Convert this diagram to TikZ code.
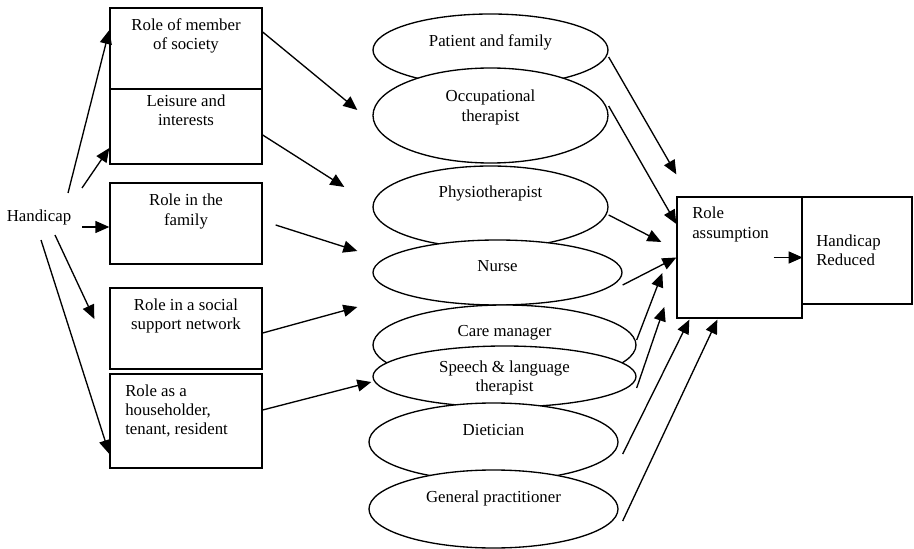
\documentclass[tikz,border=0pt]{standalone}
\usepackage{fontspec}
\setmainfont{Liberation Serif}
\usetikzlibrary{arrows.meta,shapes.geometric}
\begin{document}
\begin{tikzpicture}[x=0.75pt,y=-0.75pt,
  every node/.style={font=\fontsize{12.6pt}{14.4pt}\selectfont},
  rolebox/.style={draw,line width=1pt,rectangle,inner sep=0pt},
  member/.style={draw,line width=1pt,ellipse,fill=white,inner sep=0pt},
  lbl/.style={inner sep=0pt,align=center},
  lbll/.style={inner sep=0pt,align=left,anchor=west},
  arr/.style={line width=1pt,-{Triangle[length=10.5pt,width=9pt]}}]
\useasboundingbox (0,0) rectangle (914,549);

% roles on the left
\node[rolebox,minimum width=114pt,minimum height=60.75pt] (b1) at (186,48.5) {};
\node[rolebox,minimum width=114pt,minimum height=56.25pt] (b2) at (186,126.5) {};
\node[rolebox,minimum width=114pt,minimum height=60.75pt] (b3) at (186,223.5) {};
\node[rolebox,minimum width=114pt,minimum height=60.75pt] (b4) at (186,328.5) {};
\node[rolebox,minimum width=114pt,minimum height=70.5pt] (b5) at (186,421) {};
\node[lbl] (t1) at (186,36) {Role of member\\of society};
\node[lbl] (t2) at (186,110) {Leisure and\\interests};
\node[lbl] (t3) at (186,211.5) {Role in the\\family};
\node[lbl] (t4) at (186,316) {Role in a social\\support network};
\node[lbll] (t5) at (125,411) {Role as a\\householder,\\tenant, resident};

\node[lbl] (hc) at (39,217) {Handicap};

% team members
\node[member,minimum width=176.25pt,minimum height=54pt] (e1) at (490.5,50) {};
\node[lbl] (l1) at (490.5,42) {Patient and family};
\node[member,minimum width=176.25pt,minimum height=71.25pt] (e2) at (490.5,115.5) {};
\node[lbl] (l2) at (490.5,107.5) {Occupational\\therapist};
\node[member,minimum width=176.25pt,minimum height=61.5pt] (e3) at (490.5,207) {};
\node[lbl] (l3) at (490.5,193) {Physiotherapist};
\node[member,minimum width=186.75pt,minimum height=48.75pt] (e4) at (497.5,272.5) {};
\node[lbl] (l4) at (497.5,266) {Nurse};
\node[member,minimum width=197.25pt,minimum height=60pt] (e5) at (504.5,345) {};
\node[lbl] (l5) at (504.5,333) {Care manager};
\node[member,minimum width=197.25pt,minimum height=45.75pt] (e6) at (504.5,376.5) {};
\node[lbl] (l6) at (504.5,378) {Speech \& language\\therapist};
\node[member,minimum width=186.75pt,minimum height=58.5pt] (e7) at (493.5,442) {};
\node[lbl] (l7) at (493.5,430) {Dietician};
\node[member,minimum width=186.75pt,minimum height=58.5pt] (e8) at (493.5,509) {};
\node[lbl] (l8) at (493.5,498) {General practitioner};

% outcome
\node[rolebox,minimum width=93.75pt,minimum height=90.75pt] (ra) at (739.5,257.5) {};
\node[lbll] (lra) at (692,224.5) {Role\\assumption};
\node[rolebox,minimum width=82.5pt,minimum height=80.25pt] (hr) at (857,250.5) {};
\node[lbll] (lhr) at (816,250) {Handicap\\Reduced};

% handicap to roles
\draw[arr] ([shift={(29,-24)}]hc.center) -- ([shift={(0,-18.5)}]b1.west);
\draw[arr] ([shift={(43,-29)}]hc.center) -- ([shift={(0,21.5)}]b2.west);
\draw[arr] ([shift={(43,10)}]hc.center) -- ([shift={(0,3.5)}]b3.west);
\draw[arr] ([shift={(16,18)}]hc.center) -- ([shift={(-15,-9.5)}]b4.west);
\draw[arr] ([shift={(2,23)}]hc.center) -- ([shift={(0,33)}]b5.west);

% roles to team
\draw[arr] ([shift={(0,-16.5)}]b1.east) -- ([shift={(-15,-5.5)}]e2.west);
\draw[arr] ([shift={(0,8.5)}]b2.east) -- ([shift={(-28,-20)}]e3.west);
\draw[arr] ([shift={(13,1.5)}]b3.east) -- ([shift={(-15,-21.5)}]e4.west);
\draw[arr] ([shift={(0,4.5)}]b4.east) -- ([shift={(-15,-38)}]e5.west);
\draw[arr] ([shift={(0,-11)}]b5.east) -- ([shift={(-1,5.5)}]e6.west);

% team to role assumption
\draw[arr] ([shift={(0,7)}]e1.east) -- ([shift={(0,-22)}]ra.north west);
\draw[arr] ([shift={(0,-9.5)}]e2.east) -- ([shift={(0,-33.5)}]ra.west);
\draw[arr] ([shift={(0,8)}]e3.east) -- ([shift={(-15,-15.5)}]ra.west);
\draw[arr] ([shift={(0,12.5)}]e4.east) -- (ra.west);
\draw[arr] ([shift={(0,-5)}]e5.east) -- ([shift={(-14,15.5)}]ra.west);
\draw[arr] ([shift={(0,11.5)}]e6.east) -- ([shift={(-12,49.5)}]ra.west);
\draw[arr] ([shift={(4,12)}]e7.east) -- ([shift={(13,1)}]ra.south west);
\draw[arr] ([shift={(4,12)}]e8.east) -- ([shift={(41,1)}]ra.south west);

% role assumption to handicap reduced
\draw[arr] ([shift={(-29,0)}]ra.east) -- (ra.east);
\end{tikzpicture}
\end{document}
